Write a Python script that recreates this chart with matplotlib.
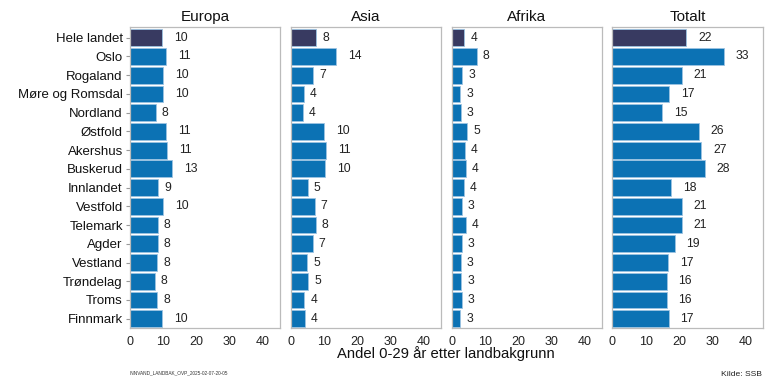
import matplotlib
matplotlib.use("Agg")
import matplotlib.pyplot as plt
import numpy as np

plt.rcParams['font.family'] = ['Liberation Sans', 'DejaVu Sans']

regions = ["Hele landet", "Oslo", "Rogaland", "Møre og Romsdal", "Nordland", "Østfold",
           "Akershus", "Buskerud", "Innlandet", "Vestfold", "Telemark", "Agder",
           "Vestland", "Trøndelag", "Troms", "Finnmark"]
panels = ["Europa", "Asia", "Afrika", "Totalt"]
europa = [9.6, 10.8, 10.0, 10.0, 7.9, 10.9, 11.3, 12.6, 8.6, 9.9, 8.4, 8.4, 8.3, 7.6, 8.3, 9.7]
asia = [7.7, 13.7, 6.7, 4.0, 3.6, 10.0, 10.6, 10.2, 5.1, 7.2, 7.6, 6.6, 4.9, 5.2, 4.1, 4.3]
afrika = [3.8, 7.5, 3.2, 2.6, 2.8, 4.7, 3.9, 4.2, 3.6, 3.0, 4.2, 3.0, 2.8, 2.9, 3.0, 2.6]
totalt = [22.2, 33.4, 20.9, 17.1, 15.0, 26.0, 26.7, 27.7, 17.6, 20.9, 20.8, 18.7, 16.8, 16.3, 16.3, 16.9]
series = [europa, asia, afrika, totalt]
xticks = [0, 10, 20, 30, 40]

W, H = 768, 384
fig = plt.figure(figsize=(W / 100, H / 100), dpi=100)

blue = "#0c72b4"
dark = "#383a61"
edge = "#9cc3e2"

lefts = [129.7, 290.7, 451.7, 612.3]
pw = 150.3
top, bottom = 26.7, 327.5
n = len(regions)
ypos = np.arange(n)

for i, (name, vals) in enumerate(zip(panels, series)):
    ax = fig.add_axes([lefts[i] / W, 1 - bottom / H, pw / W, (bottom - top) / H])
    colors = [dark] + [blue] * (n - 1)
    ax.barh(ypos, vals, height=0.9, color=colors, edgecolor=edge, linewidth=0.6)
    for y, v in zip(ypos, vals):
        lab = f"{round(v):d}"
        ax.annotate(lab, (v, y), xytext=(len(lab) * 4.3, 0), textcoords="offset points",
                    ha="left", va="center", fontsize=8.7, color="#222222")
    ax.set_xlim(0, 45.1)
    ax.set_ylim(n - 1 + 0.47, -0.59)
    ax.set_xticks(xticks)
    ax.set_xticklabels([str(t) for t in xticks], fontsize=9, color="#222222")
    ax.tick_params(axis="x", length=0, pad=6)
    if i == 0:
        ax.set_yticks(ypos)
        ax.set_yticklabels(regions, fontsize=9.5, color="#111111")
        ax.tick_params(axis="y", length=3, color="#999999", pad=2)
    else:
        ax.set_yticks([])
    for s in ax.spines.values():
        s.set_color("#bbbbbb")
        s.set_linewidth(0.9)
    ax.set_title(name, fontsize=11, pad=4, color="#111111")

fig.text(446 / W, 1 - 354 / H, "Andel 0-29 år etter landbakgrunn", ha="center", va="center",
         fontsize=10.7, color="#111111")
fig.text(130 / W, 1 - 373 / H, "INNVAND_LANDBAK_OVP_2025-02-07-20-05", ha="left", va="center",
         fontsize=3.4, color="#333333")
fig.text(762 / W, 1 - 374 / H, "Kilde: SSB", ha="right", va="center", fontsize=6.1, color="#222222")

fig.savefig("out.png", dpi=100)
